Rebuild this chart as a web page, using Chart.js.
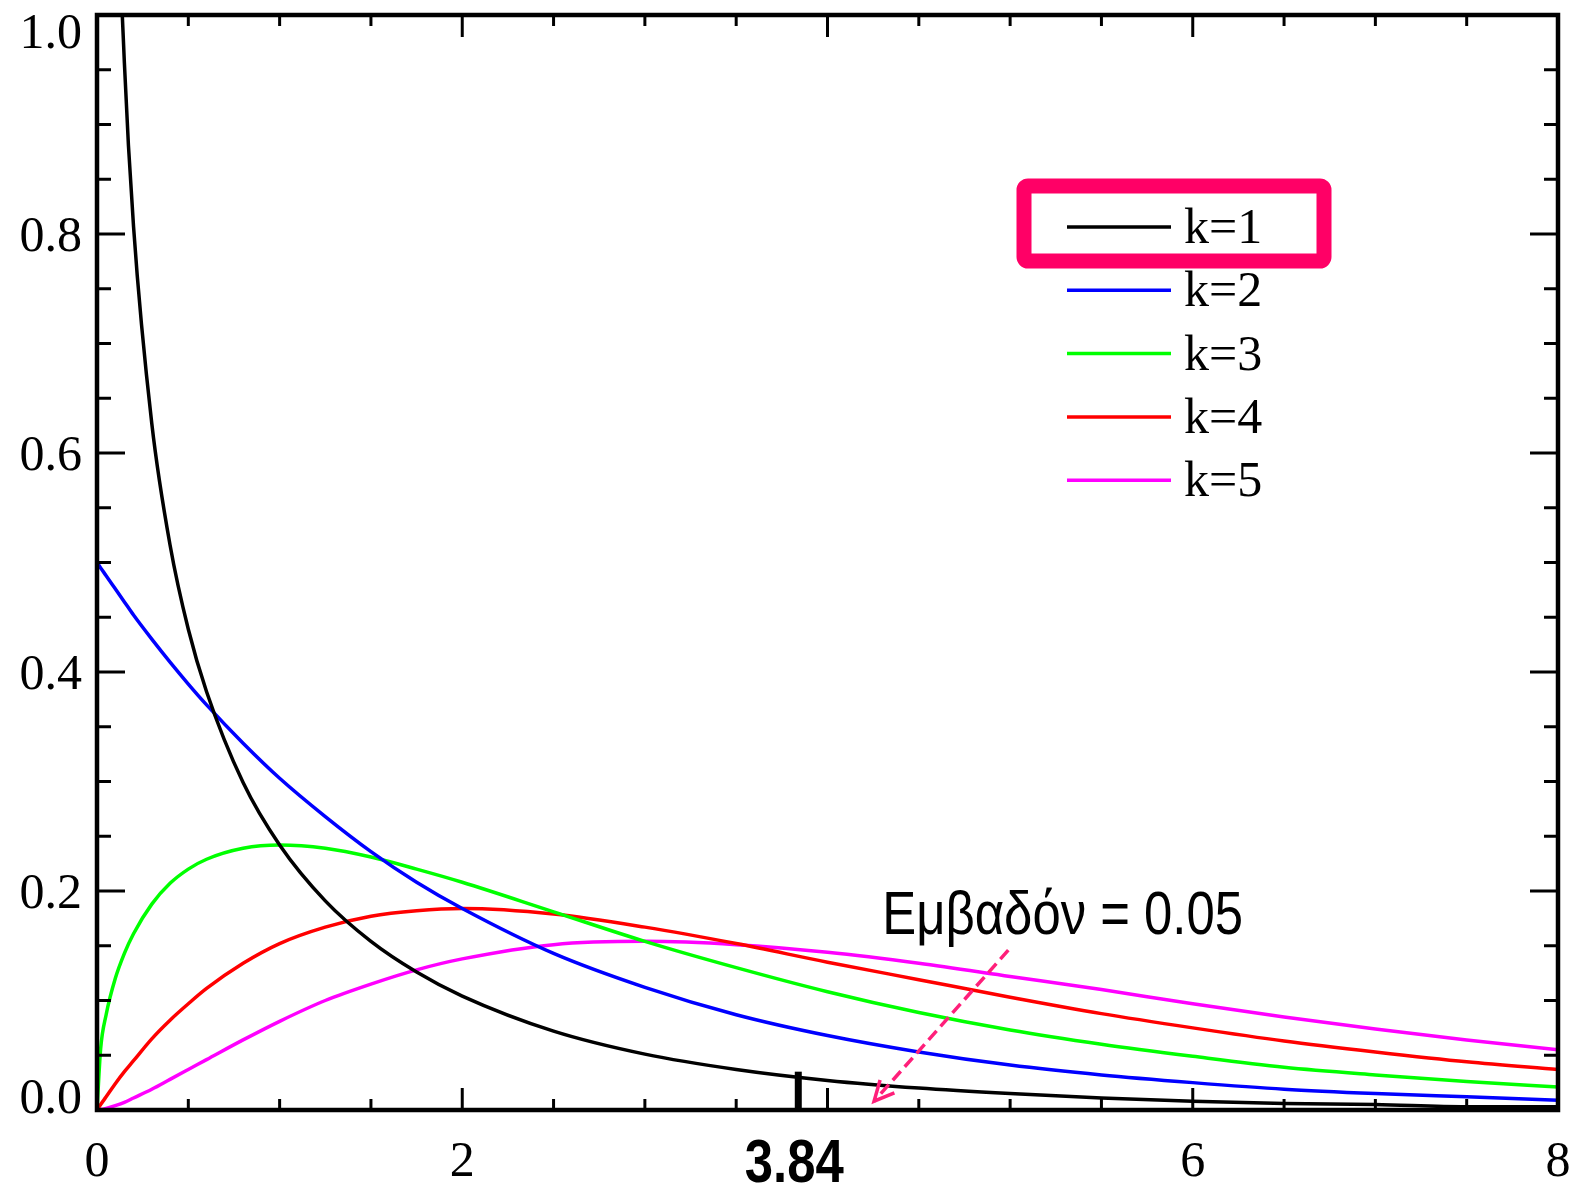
<!DOCTYPE html>
<html>
<head>
  <meta charset="utf-8" />
  <title>Κατανομή χ²</title>
  <script src="https://cdn.jsdelivr.net/npm/chart.js@4.4.0/dist/chart.umd.min.js"></script>
  <style>
    html, body { margin: 0; padding: 0; background: #fff; }
    canvas { display: block; }
  </style>
</head>
<body>
<canvas id="chi2Chart" width="1581" height="1190"></canvas>

<script>
  // values
  const xValues = [0, 0.02, 0.05, 0.1, 0.15, 0.2, 0.3, 0.4, 0.5, 0.6, 0.8, 1, 1.25, 1.5, 1.75, 2,
                   2.5, 3, 3.5, 4, 4.5, 5, 5.5, 6, 6.5, 7, 7.5, 8];
  const k1 = [null, null, 1.740, 1.200, 0.956, 0.807, 0.627, 0.516, 0.439, 0.382, 0.299, 0.242, 0.191, 0.154, 0.126, 0.104,
              0.072, 0.051, 0.037, 0.027, 0.020, 0.015, 0.011, 0.008, 0.006, 0.005, 0.003, 0.003];
  const k2 = [0.500, 0.495, 0.488, 0.476, 0.464, 0.452, 0.430, 0.409, 0.389, 0.370, 0.335, 0.303, 0.268, 0.236, 0.208, 0.184,
              0.143, 0.112, 0.087, 0.068, 0.053, 0.041, 0.032, 0.025, 0.019, 0.015, 0.012, 0.009];
  const k3 = [0, 0.056, 0.087, 0.120, 0.143, 0.161, 0.188, 0.207, 0.220, 0.229, 0.239, 0.242, 0.239, 0.231, 0.220, 0.208,
              0.181, 0.154, 0.130, 0.108, 0.089, 0.073, 0.060, 0.049, 0.039, 0.032, 0.026, 0.021];
  const k4 = [0, 0.005, 0.012, 0.024, 0.035, 0.045, 0.065, 0.082, 0.097, 0.111, 0.134, 0.152, 0.167, 0.177, 0.182, 0.184,
              0.179, 0.167, 0.152, 0.135, 0.119, 0.103, 0.088, 0.075, 0.063, 0.053, 0.044, 0.037];
  const k5 = [0, 0.0004, 0.0015, 0.004, 0.007, 0.011, 0.019, 0.028, 0.037, 0.046, 0.064, 0.081, 0.100, 0.115, 0.128, 0.138,
              0.151, 0.154, 0.151, 0.144, 0.134, 0.122, 0.110, 0.097, 0.085, 0.074, 0.064, 0.055];

  const seriesLabels = ['k=1', 'k=2', 'k=3', 'k=4', 'k=5'];
  const seriesColors = ['#000000', '#0000ff', '#00ff00', '#ff0000', '#ff00ff'];

  const xTickValues = [0, 2, 6, 8];
  const yTickValues = [0, 0.2, 0.4, 0.6, 0.8, 1.0];
  const criticalValue = 3.84;
  const areaText = 'Εμβαδόν = 0.05';

  const series = [k1, k2, k3, k4, k5];
  const serifFont = '50px "Liberation Serif", "Times New Roman", serif';

  function line(ctx, x1, y1, x2, y2) {
    ctx.beginPath();
    ctx.moveTo(x1, y1);
    ctx.lineTo(x2, y2);
    ctx.stroke();
  }

  // narrow sans text (the picture uses a condensed face)
  function narrowText(ctx, text, x, y, font, align) {
    ctx.save();
    ctx.font = font;
    ctx.textAlign = align;
    ctx.textBaseline = 'alphabetic';
    ctx.translate(x, y);
    ctx.scale(0.82, 1);
    ctx.fillText(text, 0, 0);
    ctx.restore();
  }

  const framePlugin = {
    id: 'frame',
    afterDatasetsDraw(chart) {
      const { ctx, chartArea: a, scales: { x, y } } = chart;
      ctx.save();
      ctx.strokeStyle = '#000';
      ctx.lineWidth = 3;
      ctx.lineCap = 'butt';

      // x ticks, top and bottom, pointing inwards
      for (let v = 0.5; v < 8; v += 0.5) {
        const px = x.getPixelForValue(v);
        const len = (v % 2 === 0) ? 22 : 11;
        line(ctx, px, a.bottom, px, a.bottom - len);
        line(ctx, px, a.top, px, a.top + len);
      }
      // y ticks, left and right
      for (let i = 1; i < 20; i++) {
        const py = y.getPixelForValue(i * 0.05);
        const len = (i % 4 === 0) ? 28 : 14;
        line(ctx, a.left, py, a.left + len, py);
        line(ctx, a.right, py, a.right - len, py);
      }

      ctx.lineWidth = 4.5;
      ctx.strokeRect(a.left, a.top, a.right - a.left, a.bottom - a.top);

      // marker at the critical value
      ctx.lineWidth = 7;
      const cx = x.getPixelForValue(criticalValue);
      line(ctx, cx, a.bottom, cx, y.getPixelForValue(0.035));

      // tick labels
      ctx.fillStyle = '#000';
      ctx.font = serifFont;
      ctx.textBaseline = 'alphabetic';
      ctx.textAlign = 'right';
      yTickValues.forEach(v => {
        let py = y.getPixelForValue(v);
        py = Math.min(Math.max(py, a.top + 16), a.bottom - 14);
        ctx.fillText(v.toFixed(1), a.left - 15, py + 17);
      });
      ctx.textAlign = 'center';
      xTickValues.forEach(v => {
        ctx.fillText(String(v), x.getPixelForValue(v), a.bottom + 66);
      });
      narrowText(ctx, criticalValue.toFixed(2), cx - 4, a.bottom + 72,
        'bold 62px "Liberation Sans", Arial, sans-serif', 'center');

      // annotation
      narrowText(ctx, areaText, x.getPixelForValue(4.30), y.getPixelForValue(0.161),
        '62px "Liberation Sans", Arial, sans-serif', 'left');

      const tx = x.getPixelForValue(4.99), ty = y.getPixelForValue(0.146);
      const hx = x.getPixelForValue(4.255), hy = y.getPixelForValue(0.008);
      ctx.strokeStyle = '#ff1f7a';
      ctx.lineWidth = 3.5;
      ctx.setLineDash([12, 6]);
      line(ctx, tx, ty, hx, hy);
      ctx.setLineDash([]);
      const ang = Math.atan2(hy - ty, hx - tx);
      ctx.beginPath();
      ctx.moveTo(hx - 22 * Math.cos(ang - 0.45), hy - 22 * Math.sin(ang - 0.45));
      ctx.lineTo(hx, hy);
      ctx.lineTo(hx - 22 * Math.cos(ang + 0.45), hy - 22 * Math.sin(ang + 0.45));
      ctx.stroke();

      // legend
      chart.data.datasets.forEach((ds, i) => {
        const ly = 227 + i * 63.3;
        ctx.strokeStyle = ds.borderColor;
        ctx.lineWidth = 3.5;
        line(ctx, 1067, ly, 1171, ly);
        ctx.fillStyle = '#000';
        ctx.font = serifFont;
        ctx.textAlign = 'left';
        ctx.fillText(ds.label, 1184, ly + 16);
      });

      // highlight box round k=1
      ctx.strokeStyle = '#ff0066';
      ctx.lineWidth = 15;
      ctx.lineJoin = 'round';
      ctx.beginPath();
      ctx.roundRect(1024, 186, 300, 75, 4);
      ctx.stroke();

      ctx.restore();
    }
  };

  const ctx = document.getElementById('chi2Chart').getContext('2d');
  new Chart(ctx, {
    type: 'line',
    data: {
      datasets: series.map((vals, i) => ({
        label: seriesLabels[i],
        data: xValues.map((xv, j) => ({ x: xv, y: vals[j] })),
        borderColor: seriesColors[i],
        backgroundColor: seriesColors[i],
        borderWidth: 3.5,
        pointRadius: 0,
        cubicInterpolationMode: 'monotone',
        fill: false
      }))
    },
    options: {
      responsive: false,
      devicePixelRatio: 1,
      animation: false,
      layout: { padding: { left: 97, right: 23, top: 15, bottom: 80 } },
      plugins: {
        legend: { display: false },
        tooltip: { enabled: false }
      },
      scales: {
        x: { type: 'linear', min: 0, max: 8, display: false },
        y: { type: 'linear', min: 0, max: 1, display: false }
      }
    },
    plugins: [framePlugin]
  });
</script>

</body>
</html>
